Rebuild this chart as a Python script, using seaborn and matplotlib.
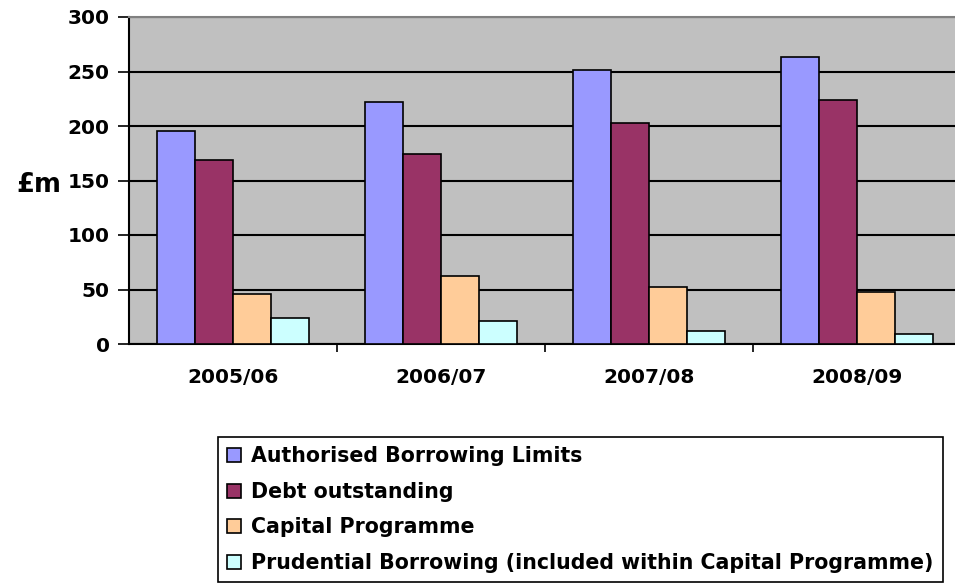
import matplotlib
matplotlib.use("Agg")
import matplotlib.pyplot as plt
import seaborn as sns
import pandas as pd
from matplotlib.ticker import FixedLocator

years = ["2005/06", "2006/07", "2007/08", "2008/09"]
series = ["Authorised Borrowing Limits", "Debt outstanding", "Capital Programme",
          "Prudential Borrowing (included within Capital Programme)"]
authorised = [195, 222, 251, 263]
debt = [169, 174.5, 203, 224]
capital = [45.5, 62, 52.5, 47.5]
prudential = [23.5, 21, 11.5, 9.5]
colors = ["#9999FF", "#993366", "#FFCC99", "#CCFFFF"]

rows = []
for name, vals in zip(series, [authorised, debt, capital, prudential]):
    for y, v in zip(years, vals):
        rows.append({"year": y, "series": name, "value": v})
df = pd.DataFrame(rows)

sns.set_theme(style="white")
plt.rcParams["font.family"] = ["DejaVu Sans"]
plt.rcParams["font.weight"] = "bold"
plt.rcParams["text.color"] = "black"
plt.rcParams["axes.labelcolor"] = "black"
plt.rcParams["xtick.color"] = "black"
plt.rcParams["ytick.color"] = "black"

fig = plt.figure(figsize=(9.55, 5.85), dpi=100)
ax = fig.add_axes([129/955, 1-344/585, (961-129)/955, (344-17)/585])
ax.set_facecolor("#C0C0C0")

sns.barplot(data=df, x="year", y="value", hue="series", palette=colors,
            saturation=1, width=0.73, edgecolor="black", linewidth=1.2,
            ax=ax, zorder=3)

ax.set_ylim(0, 300)
ax.set_xlim(-0.5, 3.5)
ax.set_yticks(range(0, 301, 50))
ax.yaxis.grid(True, color="black", linewidth=1.5, zorder=0)
ax.set_axisbelow(True)
ax.tick_params(axis="y", which="major", length=8, width=1.2, color="black",
               labelsize=14.5, pad=6, left=True, direction="out")
ax.tick_params(axis="x", which="major", length=0, labelsize=14.5, pad=17)
ax.xaxis.set_minor_locator(FixedLocator([0.5, 1.5, 2.5]))
ax.tick_params(axis="x", which="minor", length=6, width=1.2, color="black",
               bottom=True, direction="out")
for lab in ax.get_xticklabels() + ax.get_yticklabels():
    lab.set_fontweight("bold")
ax.set_xlabel("")
ax.set_ylabel("£m", rotation=0, fontsize=18.5, fontweight="bold",
              va="center", ha="center")
ax.yaxis.set_label_coords((38.5-129)/832, (344-185)/327)

for side in ["left", "bottom"]:
    ax.spines[side].set_color("black")
    ax.spines[side].set_linewidth(1.5)
ax.spines["top"].set_color("#808080")
ax.spines["top"].set_linewidth(1.5)
ax.spines["right"].set_visible(False)

handles, labels = ax.get_legend_handles_labels()
ax.get_legend().remove()
leg = fig.legend(handles, labels, loc="upper left",
                 bbox_to_anchor=(218/955, 1-584/585, 725/955, 147/585),
                 mode="expand", frameon=True, framealpha=1, facecolor="white",
                 fancybox=False, edgecolor="black", fontsize=14.8,
                 handlelength=0.65, handleheight=0.65, handletextpad=0.5,
                 labelspacing=0.76, borderpad=0.45, borderaxespad=0)
leg.get_frame().set_linewidth(1.2)
for t in leg.get_texts():
    t.set_fontweight("bold")

fig.savefig("out.png", dpi=100)
